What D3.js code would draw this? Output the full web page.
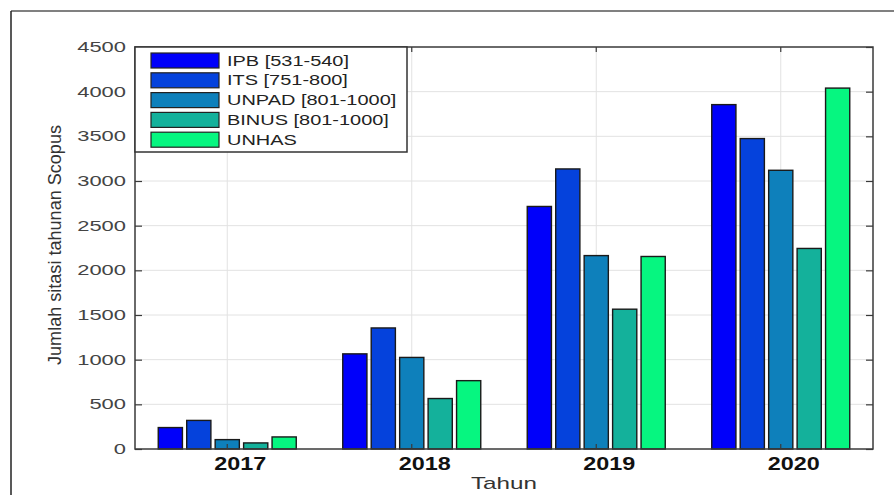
<!DOCTYPE html>
<html>
<head>
<meta charset="utf-8">
<script src="https://cdn.jsdelivr.net/npm/d3@7"></script>
<style>
  html, body { margin: 0; padding: 0; background: #fff; }
  svg { display: block; }
  text { font-family: "Liberation Sans", Arial, sans-serif; }
</style>
</head>
<body>
<svg id="chart" width="894" height="495"></svg>
<script>
// ---- data ----
const years = ["2017", "2018", "2019", "2020"];
const seriesNames = ["IPB [531-540]", "ITS [751-800]", "UNPAD [801-1000]", "BINUS [801-1000]", "UNHAS"];
const IPB   = [240, 1065, 2715, 3855];
const ITS   = [320, 1355, 3135, 3475];
const UNPAD = [105, 1025, 2165, 3120];
const BINUS = [68,  565,  1565, 2245];
const UNHAS = [135, 765,  2155, 4040];
const seriesValues = [IPB, ITS, UNPAD, BINUS, UNHAS];
const yTicks = [0, 500, 1000, 1500, 2000, 2500, 3000, 3500, 4000, 4500];
const colors = ["#0000fa", "#0542dc", "#0e80bb", "#14b19b", "#06f680"];
const yLabel = "Jumlah sitasi tahunan Scopus";
const xLabel = "Tahun";

// ---- layout ----
const svg = d3.select("#chart");
const L = 135, R = 873, T = 47, B = 449;

const x0 = d3.scaleBand().domain(years).range([L, R]).paddingInner(0).paddingOuter(0);
const x1 = d3.scaleBand().domain(seriesNames).range([-69, 69]).paddingInner(0.15).paddingOuter(0);
const y = d3.scaleLinear().domain([0, 4500]).range([B, T]);
const cx = d => x0(d) + x0.bandwidth() / 2;

// outer frame
svg.append("line").attr("x1", 11).attr("x2", 894).attr("y1", 11).attr("y2", 11)
  .attr("stroke", "#808080").attr("stroke-width", 2);
svg.append("line").attr("x1", 11).attr("x2", 11).attr("y1", 11).attr("y2", 495)
  .attr("stroke", "#222").attr("stroke-width", 1.5);

// grid
const grid = svg.append("g");
grid.selectAll("line.h").data(yTicks.filter(t => t > 0 && t < 4500)).join("line")
  .attr("x1", L).attr("x2", R).attr("y1", d => y(d)).attr("y2", d => y(d))
  .attr("stroke", "#e2e2e2").attr("stroke-width", 1);
grid.selectAll("line.v").data(years).join("line")
  .attr("x1", d => cx(d)).attr("x2", d => cx(d)).attr("y1", T).attr("y2", B)
  .attr("stroke", "#e2e2e2").attr("stroke-width", 1);

// bars
const groups = svg.append("g").selectAll("g").data(years).join("g")
  .attr("transform", d => `translate(${cx(d)},0)`);
groups.selectAll("rect").data((yr, i) => seriesNames.map((s, k) => ({ s, k, v: seriesValues[k][i] })))
  .join("rect")
  .attr("x", d => x1(d.s))
  .attr("width", x1.bandwidth())
  .attr("y", d => y(d.v))
  .attr("height", d => y(0) - y(d.v))
  .attr("fill", d => colors[d.k])
  .attr("stroke", "#1a1a1a").attr("stroke-width", 1.4);

// axes (MATLAB-style box, ticks inward)
const axisColor = "#3a3a3a";
const yAxisL = d3.axisLeft(y).tickValues(yTicks).tickSize(-7).tickFormat("");
const yAxisR = d3.axisRight(y).tickValues(yTicks).tickSize(-7).tickFormat("");
const xAxisB = d3.axisBottom(x0).tickSize(-5).tickFormat("");
const xAxisT = d3.axisTop(x0).tickSize(-5).tickFormat("");
function styleAxis(g) {
  g.selectAll("path").attr("stroke", axisColor).attr("stroke-width", 1.5);
  g.selectAll("line").attr("stroke", axisColor).attr("stroke-width", 1.2);
}
svg.append("g").attr("transform", `translate(${L},0)`).call(yAxisL).call(g => g.select(".domain").remove()).call(styleAxis);
svg.append("g").attr("transform", `translate(${R},0)`).call(yAxisR).call(g => g.select(".domain").remove()).call(styleAxis);
svg.append("g").attr("transform", `translate(0,${B})`).call(xAxisB).call(g => g.select(".domain").remove()).call(styleAxis);
svg.append("g").attr("transform", `translate(0,${T})`).call(xAxisT).call(g => g.select(".domain").remove()).call(styleAxis);
svg.append("rect").attr("x", L).attr("y", T).attr("width", R - L).attr("height", B - T)
  .attr("fill", "none").attr("stroke", axisColor).attr("stroke-width", 1.5);

// y tick labels
svg.append("g").selectAll("text").data(yTicks).join("text")
  .attr("x", 126).attr("y", d => y(d) + 5)
  .attr("text-anchor", "end")
  .attr("font-size", 14)
  .attr("fill", "#444")
  .attr("textLength", d => String(d).length * 12.2)
  .attr("lengthAdjust", "spacingAndGlyphs")
  .text(d => d);

// x tick labels (bold)
svg.append("g").selectAll("text").data(years).join("text")
  .attr("x", d => cx(d) + 13).attr("y", 470)
  .attr("text-anchor", "middle")
  .attr("font-size", 18).attr("font-weight", "bold")
  .attr("fill", "#111")
  .attr("textLength", 52)
  .attr("lengthAdjust", "spacingAndGlyphs")
  .text(d => d);

// axis labels
svg.append("text")
  .attr("transform", `translate(61,${(T + B) / 2 - 3}) rotate(-90)`)
  .attr("text-anchor", "middle")
  .attr("font-size", 19)
  .attr("fill", "#333")
  .attr("textLength", 240)
  .attr("lengthAdjust", "spacingAndGlyphs")
  .text(yLabel);
svg.append("text")
  .attr("x", (L + R) / 2).attr("y", 489)
  .attr("text-anchor", "middle")
  .attr("font-size", 17)
  .attr("fill", "#333")
  .attr("textLength", 66)
  .attr("lengthAdjust", "spacingAndGlyphs")
  .text(xLabel);

// legend
const leg = svg.append("g");
leg.append("rect").attr("x", L).attr("y", T).attr("width", 272).attr("height", 105)
  .attr("fill", "#fff").attr("stroke", "#333").attr("stroke-width", 1.5);
const rows = leg.selectAll("g.row").data(seriesNames).join("g")
  .attr("transform", (d, i) => `translate(0,${53 + i * 19.8})`);
rows.append("rect").attr("x", 151).attr("y", 0).attr("width", 68).attr("height", 15)
  .attr("fill", (d, i) => colors[i]).attr("stroke", "#222").attr("stroke-width", 1.2);
rows.append("text").attr("x", 227).attr("y", 12.5)
  .attr("font-size", 15).attr("fill", "#222")
  .text(d => d)
  .each(function () {
    const w = this.getComputedTextLength();
    d3.select(this).attr("textLength", w * 1.33).attr("lengthAdjust", "spacingAndGlyphs");
  });
</script>
</body>
</html>
